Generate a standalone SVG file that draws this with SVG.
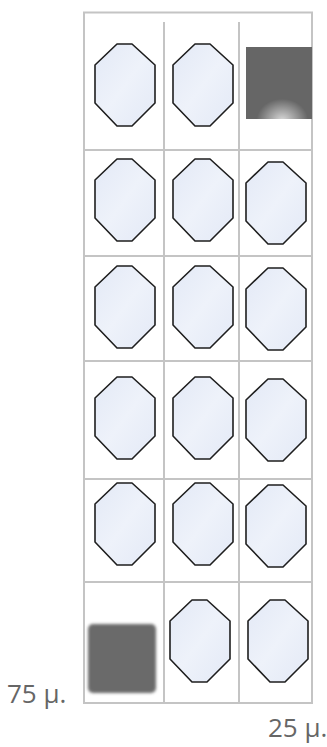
<svg xmlns="http://www.w3.org/2000/svg" width="327" height="747" viewBox="0 0 327 747">
<style>
.grid{stroke:#c4c4c4;stroke-width:2;fill:none}
.oct{fill:url(#og);stroke:#1e1e1e;stroke-width:1.6;stroke-linejoin:round}
.lbl{font-family:"Open Sans","Noto Sans",sans-serif;font-size:26px;fill:#666}
</style>
<defs>
<linearGradient id="og" x1="0" y1="0" x2="1" y2="1">
<stop offset="0" stop-color="#e3e9f6"/>
<stop offset="0.5" stop-color="#eef2fa"/>
<stop offset="1" stop-color="#e3e9f6"/>
</linearGradient>
<radialGradient id="glow" cx="0.55" cy="1.02" r="0.3" gradientTransform="translate(0.55 1.02) scale(1.3 1) translate(-0.55 -1.02)">
<stop offset="0" stop-color="#ffffff" stop-opacity="0.75"/>
<stop offset="1" stop-color="#ffffff" stop-opacity="0"/>
</radialGradient>
<filter id="soft" x="-10%" y="-10%" width="120%" height="120%"><feGaussianBlur stdDeviation="1.5"/></filter>
<filter id="lb" x="-5%" y="-5%" width="110%" height="110%"><feGaussianBlur stdDeviation="0.6"/></filter>
<polygon id="o" points="22,0 37,0 60,21 60,59 37,82 22,82 0,59 0,21"/>
</defs>
<rect width="327" height="747" fill="#fff"/>
<g id="grid" filter="url(#lb)">
<rect class="grid" x="84" y="12.5" width="228" height="690.5" stroke-width="2.5"/>
<line class="grid" x1="164" y1="22" x2="164" y2="702"/>
<line class="grid" x1="239" y1="22" x2="239" y2="702"/>
<line class="grid" x1="85" y1="150" x2="311" y2="150"/>
<line class="grid" x1="85" y1="256" x2="311" y2="256"/>
<line class="grid" x1="85" y1="361" x2="311" y2="361"/>
<line class="grid" x1="85" y1="479" x2="311" y2="479"/>
<line class="grid" x1="85" y1="582" x2="311" y2="582"/>
</g>
<g id="r1">
<use href="#o" class="oct" x="95" y="44"/>
<use href="#o" class="oct" x="173" y="44"/>
<g id="sq1"><rect x="246" y="47" width="66" height="72" fill="#666"/><rect x="246" y="47" width="66" height="72" fill="url(#glow)"/></g>
</g>
<g id="r2">
<use href="#o" class="oct" x="95" y="159"/>
<use href="#o" class="oct" x="173" y="159"/>
<use href="#o" class="oct" x="246" y="162"/>
</g>
<g id="r3">
<use href="#o" class="oct" x="95" y="266"/>
<use href="#o" class="oct" x="173" y="266"/>
<use href="#o" class="oct" x="246" y="268"/>
</g>
<g id="r4">
<use href="#o" class="oct" x="95" y="377"/>
<use href="#o" class="oct" x="173" y="377"/>
<use href="#o" class="oct" x="246" y="379"/>
</g>
<g id="r5">
<use href="#o" class="oct" x="95" y="483"/>
<use href="#o" class="oct" x="173" y="483"/>
<use href="#o" class="oct" x="246" y="485"/>
</g>
<g id="r6">
<rect id="sq2" x="88" y="624" width="68" height="69" rx="5" fill="#6b6b6b" filter="url(#soft)"/>
<use href="#o" class="oct" x="170" y="600"/>
<use href="#o" class="oct" x="248" y="600"/>
</g>
<text class="lbl" x="7" y="703">75 μ.</text>
<text class="lbl" x="268" y="737">25 μ.</text>
</svg>
